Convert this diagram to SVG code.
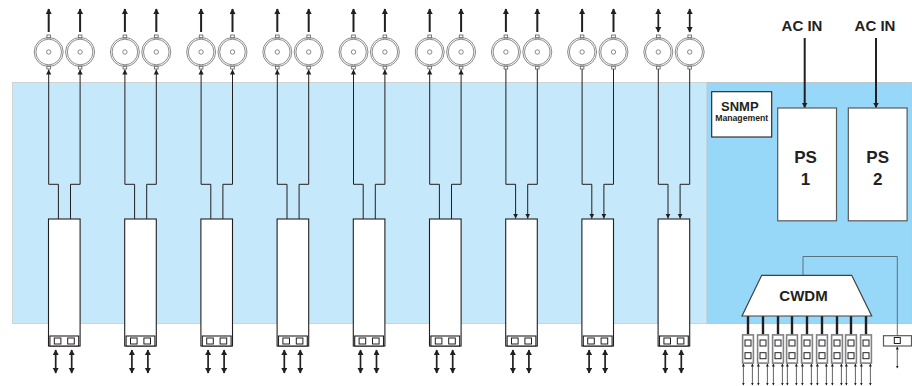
<svg xmlns="http://www.w3.org/2000/svg" width="912" height="386" viewBox="0 0 912 386">
<style>
text{font-family:"Liberation Sans",Arial,sans-serif;font-weight:700;fill:#231f20;text-anchor:middle}
.ring{fill:none;stroke:#6d6e71;stroke-width:.8}
.stub{fill:#fff;stroke:#58595b;stroke-width:.8}
.box{fill:#fff;stroke:#231f20;stroke-width:1.1}
.grey{fill:#fff;stroke:#58595b;stroke-width:1.2}
.sq{fill:#fff;stroke:#231f20;stroke-width:1}
.wire{fill:none;stroke:#231f20;stroke-width:1}
.wireh{fill:none;stroke:#231f20;stroke-width:1;marker-end:url(#hs)}
.up{fill:none;stroke:#231f20;stroke-width:2;marker-end:url(#h)}
.both{fill:none;stroke:#231f20;stroke-width:1.7;marker-start:url(#h);marker-end:url(#h)}
.ac{fill:none;stroke:#231f20;stroke-width:2;marker-end:url(#h)}
.bar{fill:none;stroke:#231f20;stroke-width:2.4}
.tiny{fill:none;stroke:#231f20;stroke-width:.7;marker-start:url(#t);marker-end:url(#t)}
</style>
<defs>
<marker id="h" markerUnits="userSpaceOnUse" markerWidth="7" markerHeight="7" refX="5" refY="3" orient="auto-start-reverse"><path d="M0 0L5.5 3L0 6Z" fill="#231f20"/></marker>
<marker id="hs" markerUnits="userSpaceOnUse" markerWidth="7" markerHeight="7" refX="5" refY="3" orient="auto-start-reverse"><path d="M0 .4L5 3L0 5.6Z" fill="#231f20"/></marker>
<marker id="t" markerUnits="userSpaceOnUse" markerWidth="4" markerHeight="4" refX="2.5" refY="1.5" orient="auto-start-reverse"><path d="M0 0L3 1.5L0 3Z" fill="#231f20"/></marker>
<g id="bnc"><rect class="stub" x="-1.8" y="-17" width="3.6" height="3"/><rect class="stub" x="-1.8" y="14" width="3.6" height="3"/><circle class="ring" r="14.5"/><circle class="ring" r="12.8"/><circle class="ring" r="2.2"/></g>
<g id="sfp"><rect class="box" x="-.2" y="219" width="31.6" height="127"/><rect class="box" x="1.2" y="336" width="28.8" height="10"/><rect class="sq" x="5.6" y="338" width="6.6" height="6"/><rect class="sq" x="19" y="338" width="6.6" height="6"/></g>
<g id="mini"><rect x="-5.4" y="334.9" width="10.8" height="28.2" fill="#fff" stroke="#808285" stroke-width="1.6"/><rect class="sq" x="-3" y="340" width="6" height="6"/><rect class="sq" x="-3" y="352.7" width="6" height="6"/></g>
</defs>
<rect id="panel-light" x="12.5" y="82.5" width="695" height="241" fill="#c5e8fa" stroke="#cfd3d4" stroke-width="1"/>
<rect id="panel-dark" x="707" y="82.5" width="205" height="241" fill="#97d8f9" stroke="#bfc5c8" stroke-width="1"/>
<g id="connectors">
<path class="wireh" d="M58.4 219V184.3H48.7V69.5"/><path class="wireh" d="M70.5 219V184.3H80.1V69.5"/>
<path class="wireh" d="M134.6 219V184.3H124.9V69.5"/><path class="wireh" d="M146.7 219V184.3H156.3V69.5"/>
<path class="wireh" d="M210.8 219V184.3H201.1V69.5"/><path class="wireh" d="M222.9 219V184.3H232.5V69.5"/>
<path class="wireh" d="M287 219V184.3H277.3V69.5"/><path class="wireh" d="M299.1 219V184.3H308.7V69.5"/>
<path class="wireh" d="M363.2 219V184.3H353.5V69.5"/><path class="wireh" d="M375.3 219V184.3H384.9V69.5"/>
<path class="wireh" d="M439.4 219V184.3H429.7V69.5"/><path class="wireh" d="M451.5 219V184.3H461.1V69.5"/>
<path class="wireh" d="M505.9 69V184.3H515.6V218.5"/><path class="wireh" d="M537.3 69V184.3H527.7V218.5"/>
<path class="wireh" d="M582.1 69V184.3H591.8V218.5"/><path class="wireh" d="M613.5 69V184.3H603.9V218.5"/>
<path class="wireh" d="M658.3 69V184.3H668V218.5"/><path class="wireh" d="M689.7 69V184.3H680.1V218.5"/>
<path class="up" d="M48.7 32V9"/><path class="up" d="M80.1 32V9"/><path class="up" d="M124.9 32V9"/><path class="up" d="M156.3 32V9"/><path class="up" d="M201.1 32V9"/><path class="up" d="M232.5 32V9"/><path class="up" d="M277.3 32V9"/><path class="up" d="M308.7 32V9"/><path class="up" d="M353.5 32V9"/><path class="up" d="M384.9 32V9"/><path class="up" d="M429.7 32V9"/><path class="up" d="M461.1 32V9"/><path class="up" d="M505.9 32V9"/><path class="up" d="M537.3 32V9"/><path class="up" d="M582.1 32V9"/><path class="up" d="M613.5 32V9"/>
<path class="both" d="M658.3 9V32"/><path class="both" d="M689.7 9V32"/>
<path class="both" d="M55.7 350V373"/><path class="both" d="M71.7 350V373"/><path class="both" d="M131.9 350V373"/><path class="both" d="M147.9 350V373"/><path class="both" d="M208.1 350V373"/><path class="both" d="M224.1 350V373"/><path class="both" d="M284.3 350V373"/><path class="both" d="M300.3 350V373"/><path class="both" d="M360.5 350V373"/><path class="both" d="M376.5 350V373"/><path class="both" d="M436.7 350V373"/><path class="both" d="M452.7 350V373"/><path class="both" d="M512.9 350V373"/><path class="both" d="M528.9 350V373"/><path class="both" d="M589.1 350V373"/><path class="both" d="M605.1 350V373"/><path class="both" d="M665.3 350V373"/><path class="both" d="M681.3 350V373"/>
<path class="ac" d="M804.7 38V107.5"/><path class="ac" d="M876 38V107.5"/>
<path d="M803 275V256.5H897.3V336" fill="none" stroke="#58737f" stroke-width="1"/>
<path class="bar" d="M748 316V334.7M763 316V334.7M778 316V334.7M792 316V334.7M807 316V334.7M822 316V334.7M837 316V334.7M851 316V334.7M866 316V334.7"/>
<path class="tiny" d="M743.4 364V385"/><path class="tiny" d="M752.4 364V385"/><path class="tiny" d="M758.4 364V385"/><path class="tiny" d="M767.4 364V385"/><path class="tiny" d="M773.4 364V385"/><path class="tiny" d="M782.4 364V385"/><path class="tiny" d="M787.4 364V385"/><path class="tiny" d="M796.4 364V385"/><path class="tiny" d="M802.4 364V385"/><path class="tiny" d="M811.4 364V385"/><path class="tiny" d="M817.4 364V385"/><path class="tiny" d="M826.4 364V385"/><path class="tiny" d="M832.4 364V385"/><path class="tiny" d="M841.4 364V385"/><path class="tiny" d="M846.4 364V385"/><path class="tiny" d="M855.4 364V385"/><path class="tiny" d="M861.4 364V385"/><path class="tiny" d="M870.4 364V385"/>
<path class="tiny" d="M897.3 347V368"/>
</g>
<g id="channel-1"><use href="#bnc" x="48.7" y="52"/><use href="#bnc" x="80.1" y="52"/><use href="#sfp" x="48.7"/></g>
<g id="channel-2"><use href="#bnc" x="124.9" y="52"/><use href="#bnc" x="156.3" y="52"/><use href="#sfp" x="124.9"/></g>
<g id="channel-3"><use href="#bnc" x="201.1" y="52"/><use href="#bnc" x="232.5" y="52"/><use href="#sfp" x="201.1"/></g>
<g id="channel-4"><use href="#bnc" x="277.3" y="52"/><use href="#bnc" x="308.7" y="52"/><use href="#sfp" x="277.3"/></g>
<g id="channel-5"><use href="#bnc" x="353.5" y="52"/><use href="#bnc" x="384.9" y="52"/><use href="#sfp" x="353.5"/></g>
<g id="channel-6"><use href="#bnc" x="429.7" y="52"/><use href="#bnc" x="461.1" y="52"/><use href="#sfp" x="429.7"/></g>
<g id="channel-7"><use href="#bnc" x="505.9" y="52"/><use href="#bnc" x="537.3" y="52"/><use href="#sfp" x="505.9"/></g>
<g id="channel-8"><use href="#bnc" x="582.1" y="52"/><use href="#bnc" x="613.5" y="52"/><use href="#sfp" x="582.1"/></g>
<g id="channel-9"><use href="#bnc" x="658.3" y="52"/><use href="#bnc" x="689.7" y="52"/><use href="#sfp" x="658.3"/></g>
<g id="ac-in-1"><text x="802" y="30.5" font-size="15">AC IN</text></g>
<g id="ac-in-2"><text x="875" y="30.5" font-size="15">AC IN</text></g>
<g id="snmp"><rect class="box" x="711.7" y="91.7" width="60" height="45.3"/><text x="739.8" y="111" font-size="13">SNMP</text><text x="741.7" y="120.7" font-size="8.7">Management</text></g>
<g id="ps1"><rect class="grey" x="777.7" y="108" width="58.8" height="112.8"/><text x="805.5" y="163.3" font-size="17">PS</text><text x="805.5" y="185" font-size="17">1</text></g>
<g id="ps2"><rect class="grey" x="848.3" y="108" width="58.8" height="112.8"/><text x="877.7" y="163.3" font-size="17">PS</text><text x="877.7" y="185" font-size="17">2</text></g>
<g id="cwdm"><path d="M761.7 275.3H851.7L871.7 316H742Z" fill="#fff" stroke="#414042" stroke-width="1.2"/><text x="803.5" y="300.7" font-size="15">CWDM</text></g>
<g id="mux-ports"><use href="#mini" x="748"/><use href="#mini" x="763"/><use href="#mini" x="778"/><use href="#mini" x="792"/><use href="#mini" x="807"/><use href="#mini" x="822"/><use href="#mini" x="837"/><use href="#mini" x="851"/><use href="#mini" x="866"/></g>
<g id="com-port"><rect class="grey" x="883.5" y="335.7" width="28" height="10.3"/><rect class="sq" x="894.3" y="337.5" width="6" height="6"/></g>
</svg>
